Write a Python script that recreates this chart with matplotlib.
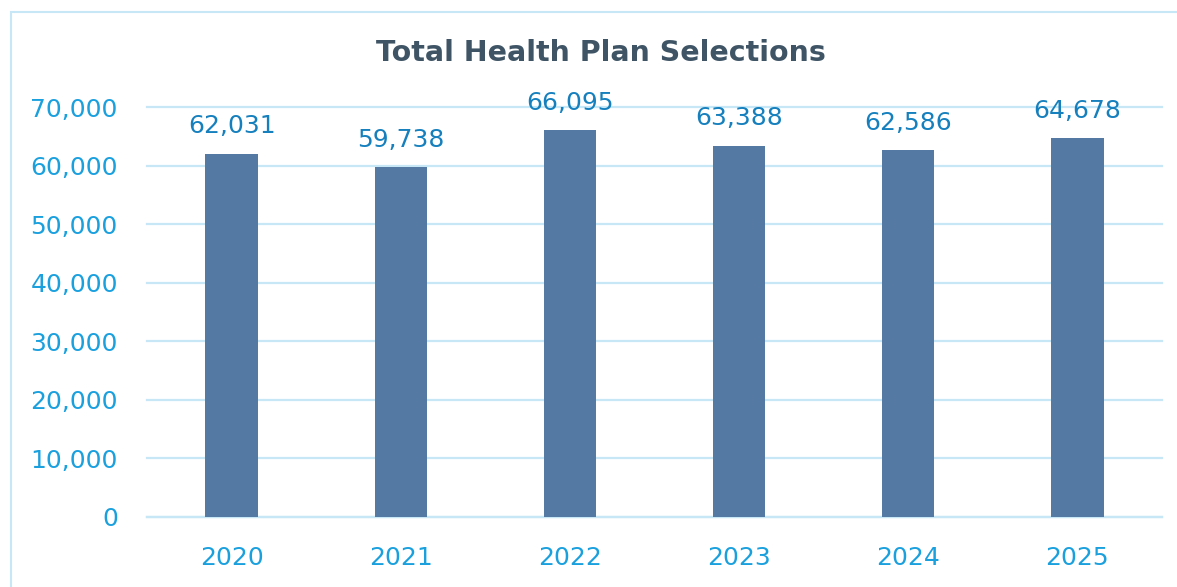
import matplotlib
matplotlib.use("Agg")
import matplotlib.pyplot as plt
from matplotlib.patches import Rectangle
from matplotlib.ticker import FuncFormatter

# data
years = ["2020", "2021", "2022", "2023", "2024", "2025"]
selections = [62031, 59738, 66095, 63388, 62586, 64678]
yticks = [0, 10000, 20000, 30000, 40000, 50000, 60000, 70000]

bar_color = "#5479a3"
tick_color = "#1ba0de"
label_color = "#1580bd"
grid_color = "#c8e7f6"
title_color = "#3f5566"

W, H = 1177, 587
fig = plt.figure(figsize=(W / 100, H / 100), dpi=100)

# outer chart border (cropped at right and bottom)
fig.patches.append(Rectangle((11 / W, -0.1), 1.2, 1 - 12 / H + 0.1,
                             transform=fig.transFigure, fill=False,
                             edgecolor=grid_color, linewidth=1.5))

ax = fig.add_axes([147 / W, 1 - 517 / H, (1162 - 147) / W, (517 - 107) / H])

x = range(len(years))
bars = ax.bar(x, selections, width=0.31, color=bar_color, zorder=3)
ax.set_xlim(-0.5, len(years) - 0.5)
ax.set_ylim(0, 70000)
ax.set_yticks(yticks)
ax.yaxis.set_major_formatter(FuncFormatter(lambda v, p: f"{int(v):,}"))
ax.set_xticks(list(x))
ax.set_xticklabels(years)

ax.grid(axis="y", color=grid_color, linewidth=1.6, zorder=0)
for gl in ax.get_ygridlines():
    gl.set_clip_on(False)
for s in ["top", "right", "left"]:
    ax.spines[s].set_visible(False)
ax.spines["bottom"].set_color(grid_color)
ax.spines["bottom"].set_linewidth(1.6)
ax.tick_params(axis="both", length=0, labelsize=18, labelcolor=tick_color)
ax.tick_params(axis="y", pad=21)
ax.tick_params(axis="x", pad=21)

for i, v in enumerate(selections):
    ax.annotate(f"{v:,}", (i, v), xytext=(0, 11), textcoords="offset points",
                ha="center", va="bottom", fontsize=18, color=label_color)

fig.text(601 / W, 1 - 53 / H, "Total Health Plan Selections", ha="center",
         va="center", fontsize=20.5, fontweight="bold", color=title_color)

fig.savefig("out.png", dpi=100)
